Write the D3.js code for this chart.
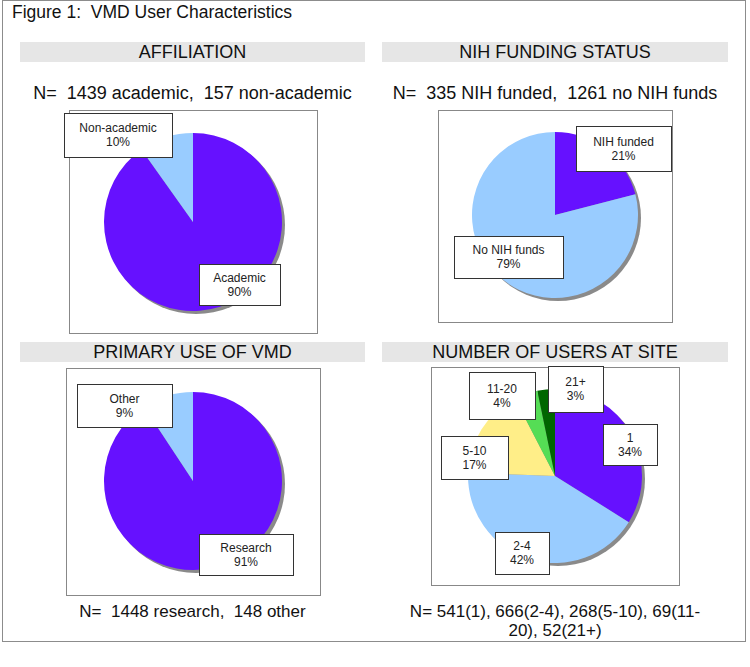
<!DOCTYPE html>
<html>
<head>
<meta charset="utf-8">
<script src="https://cdn.jsdelivr.net/npm/d3@7"></script>
<style>
  body { margin: 0; background: #fff; }
  svg { display: block; font-family: 'Liberation Sans', Arial, sans-serif; }
  text { white-space: pre; }
</style>
</head>
<body>
<svg width="750" height="667"></svg>
<script>
// data
const affilLabels = ['Academic', 'Non-academic']
const affilValues = [1439, 157]
const nihLabels = ['NIH funded', 'No NIH funds']
const nihValues = [335, 1261]
const useLabels = ['Research', 'Other']
const useValues = [1448, 148]
const siteLabels = ['1', '2-4', '5-10', '11-20', '21+']
const siteValues = [541, 666, 268, 69, 52]

const twoColors = ['#6611ff', '#99ccff']
const siteColors = ['#6611ff', '#99ccff', '#ffee88', '#55dd55', '#006600']

const svg = d3.select('svg')

// outer frame
svg.append('rect')
  .attr('x', 2.5).attr('y', 0.5).attr('width', 743).attr('height', 641)
  .attr('fill', 'none').attr('stroke', '#8c8c8c')

svg.append('text')
  .attr('x', 12).attr('y', 18)
  .attr('font-size', 17.5).attr('fill', '#111')
  .text('Figure 1:  VMD User Characteristics')

// layout of each panel (label boxes were placed by hand in the original)
const panels = [
  {
    title: 'AFFILIATION', bar: [20, 42, 345], note: ['N=  1439 academic,  157 non-academic'], noteY: 93, narrow: false,
    frame: [69, 110, 248, 223], cx: 193, cy: 222, r: 89,
    labels: affilLabels, values: affilValues, colors: twoColors,
    boxes: [[199, 264, 81, 41], [64, 113, 108, 44]]
  },
  {
    title: 'NIH FUNDING STATUS', bar: [382, 42, 346], note: ['N=  335 NIH funded,  1261 no NIH funds'], noteY: 93, narrow: false,
    frame: [438, 110, 234, 212], cx: 555, cy: 215, r: 83,
    labels: nihLabels, values: nihValues, colors: twoColors,
    boxes: [[576, 126, 95, 45], [454, 236, 109, 42]]
  },
  {
    title: 'PRIMARY USE OF VMD', bar: [20, 342, 345], note: ['N=  1448 research,  148 other'], noteY: 611, narrow: true,
    frame: [66, 368, 254, 227], cx: 193, cy: 481, r: 89,
    labels: useLabels, values: useValues, colors: twoColors,
    boxes: [[199, 534, 94, 41], [77, 384, 95, 43]]
  },
  {
    title: 'NUMBER OF USERS AT SITE', bar: [382, 342, 346],
    note: ['N= 541(1), 666(2-4), 268(5-10), 69(11-', '20), 52(21+)'], noteY: 611, narrow: true,
    frame: [431, 367, 248, 218], cx: 555, cy: 476, r: 87,
    labels: siteLabels, values: siteValues, colors: siteColors,
    boxes: [[603, 424, 54, 41], [495, 532, 54, 42], [441, 436, 67, 43], [469, 372, 66, 47], [548, 366, 55, 46]]
  }
]

const pie = d3.pie().sort(null)

panels.forEach(p => {
  const g = svg.append('g')

  // grey title band
  g.append('rect')
    .attr('x', p.bar[0]).attr('y', p.bar[1]).attr('width', p.bar[2]).attr('height', 20)
    .attr('fill', '#e6e6e6')
  g.append('text')
    .attr('x', p.bar[0] + p.bar[2] / 2).attr('y', p.bar[1] + 16)
    .attr('text-anchor', 'middle').attr('font-size', 18).attr('fill', '#111')
    .text(p.title)

  // N= line(s)
  p.note.forEach((line, i) => {
    g.append('text')
      .attr('x', p.bar[0] + p.bar[2] / 2).attr('y', p.noteY + 6 + i * 19)
      .attr('text-anchor', 'middle')
      .attr('font-size', p.narrow ? 17 : 18)
      .attr('font-family', p.narrow ? "'Liberation Sans Narrow', 'Liberation Sans', sans-serif" : null)
      .attr('fill', '#111')
      .text(line)
  })

  // chart frame
  g.append('rect')
    .attr('x', p.frame[0] + 0.5).attr('y', p.frame[1] + 0.5)
    .attr('width', p.frame[2]).attr('height', p.frame[3])
    .attr('fill', '#fff').attr('stroke', '#888')

  const total = d3.sum(p.values)
  const arcs = pie(p.values)
  const arc = d3.arc().innerRadius(0).outerRadius(p.r)

  // drop shadow
  g.append('circle')
    .attr('cx', p.cx + 3).attr('cy', p.cy + 3).attr('r', p.r)
    .attr('fill', '#8a8a8a')

  g.append('g')
    .attr('transform', `translate(${p.cx},${p.cy})`)
    .selectAll('path')
    .data(arcs)
    .join('path')
    .attr('d', arc)
    .attr('fill', (d, i) => p.colors[i])

  // label boxes
  arcs.forEach((d, i) => {
    const b = p.boxes[i]
    g.append('rect')
      .attr('x', b[0] + 0.5).attr('y', b[1] + 0.5).attr('width', b[2]).attr('height', b[3])
      .attr('fill', '#fff').attr('stroke', '#333')
    const pct = Math.round(d.value / total * 100) + '%'
    const mid = b[0] + b[2] / 2
    const top = b[1] + b[3] / 2 - 7
    ;[p.labels[i], pct].forEach((t, k) => {
      g.append('text')
        .attr('x', mid).attr('y', top + k * 14 + 4)
        .attr('text-anchor', 'middle').attr('font-size', 12).attr('fill', '#222')
        .text(t)
    })
  })
})
</script>
</body>
</html>
